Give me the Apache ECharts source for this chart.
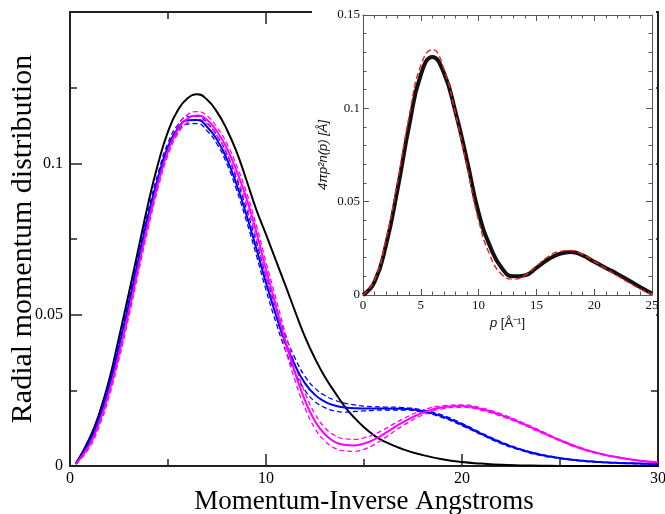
<!DOCTYPE html>
<html><head><meta charset="utf-8">
<script src="https://cdn.jsdelivr.net/npm/echarts@6/dist/echarts.min.js"></script>
<style>html,body{margin:0;padding:0;background:#fff}#c{width:665px;height:514px}</style>
</head><body><div id="c"></div>
<script>
// Main chart x positions (inverse Angstroms)
const xMain = [0.3,1,1.5,2,2.5,3,3.5,4,4.5,5,5.5,6,6.5,7,7.5,8,8.5,9,9.5,10,10.5,11,11.5,12,12.5,13,13.5,14,14.5,15,15.5,16,17,18,19,20,21,22,23,24,25,26,27,28,29,30];
const blackMain = [0.0008,0.0092,0.0175,0.0285,0.0425,0.057,0.072,0.087,0.100,0.1105,0.1175,0.1215,0.1228,0.121,0.117,0.1112,0.1038,0.0945,0.0848,0.0765,0.068,0.0595,0.0508,0.0425,0.0355,0.0295,0.0245,0.0198,0.016,0.0128,0.0102,0.0082,0.0055,0.0036,0.0022,0.0013,0.0008,0.0004,0.0002,0.0001,0,0,0,0,0,0];
const blueMain = [0.0007,0.008,0.0158,0.0262,0.0395,0.0535,0.0685,0.083,0.0955,0.1055,0.1115,0.1142,0.1143,0.112,0.1078,0.1015,0.093,0.083,0.072,0.0605,0.05,0.0405,0.033,0.0272,0.0235,0.0213,0.02,0.0193,0.0191,0.019,0.019,0.019,0.0189,0.0181,0.0164,0.0137,0.0106,0.0077,0.0054,0.0037,0.0026,0.0018,0.0013,0.001,0.0008,0.0006];
const blueUpper = [0.0008,0.0088,0.017,0.0277,0.0412,0.0552,0.0702,0.0846,0.0969,0.1068,0.1127,0.1154,0.1155,0.1133,0.1092,0.1031,0.0948,0.085,0.0742,0.0628,0.0524,0.0429,0.0354,0.0295,0.0257,0.0233,0.0218,0.0208,0.0202,0.0198,0.0196,0.0195,0.0193,0.0185,0.0168,0.0141,0.0109,0.008,0.0056,0.0039,0.0027,0.0019,0.0014,0.0011,0.0009,0.0007];
const blueLower = [0.0006,0.0072,0.0146,0.0247,0.0378,0.0518,0.0668,0.0814,0.0941,0.1042,0.1103,0.113,0.1131,0.1107,0.1064,0.0999,0.0912,0.081,0.0698,0.0582,0.0476,0.0381,0.0306,0.0249,0.0213,0.0193,0.0182,0.0178,0.018,0.0182,0.0184,0.0185,0.0185,0.0177,0.016,0.0133,0.0103,0.0074,0.0052,0.0035,0.0025,0.0017,0.0012,0.0009,0.0007,0.0005];
const magMain = [0.0006,0.007,0.0145,0.0245,0.037,0.051,0.066,0.0805,0.0935,0.104,0.111,0.1148,0.1158,0.1143,0.1105,0.105,0.0975,0.0885,0.0775,0.065,0.053,0.041,0.0305,0.0215,0.0148,0.0105,0.008,0.007,0.0068,0.0074,0.0087,0.0105,0.0145,0.0176,0.0194,0.0198,0.0188,0.0168,0.0143,0.0114,0.0085,0.006,0.0041,0.0028,0.0018,0.0012];
const magUpper = [0.0007,0.0078,0.0157,0.026,0.0387,0.0528,0.0678,0.0822,0.095,0.1053,0.1123,0.1161,0.1171,0.1156,0.1119,0.1066,0.0993,0.0905,0.0797,0.0674,0.0555,0.0436,0.0331,0.024,0.0172,0.0127,0.0101,0.009,0.0088,0.0093,0.0104,0.012,0.0156,0.0184,0.0199,0.0202,0.0192,0.0172,0.0146,0.0117,0.0087,0.0062,0.0042,0.0029,0.0019,0.0013];
const magLower = [0.0005,0.0062,0.0133,0.023,0.0353,0.0492,0.0642,0.0788,0.092,0.1027,0.1097,0.1135,0.1145,0.113,0.1091,0.1034,0.0957,0.0865,0.0753,0.0626,0.0505,0.0384,0.0279,0.019,0.0124,0.0083,0.0059,0.005,0.0048,0.0055,0.007,0.009,0.0134,0.0168,0.0189,0.0194,0.0184,0.0164,0.014,0.0111,0.0083,0.0058,0.004,0.0027,0.0017,0.0011];

// Inset
const xInset = [0,1,2,3,4,5,6,7,8,9,10,11,12,13,14,15,16,17,18,19,20,21,22,23,24,25];
const insetBlack = [0,0.007,0.027,0.057,0.091,0.118,0.1275,0.119,0.098,0.072,0.044,0.026,0.0145,0.010,0.0105,0.0145,0.019,0.022,0.0231,0.0212,0.0178,0.0145,0.0113,0.0078,0.0042,0.0008];
const insetRed = [0,0.008,0.030,0.061,0.096,0.123,0.1315,0.121,0.097,0.069,0.040,0.021,0.011,0.0085,0.0105,0.0155,0.0205,0.0233,0.0238,0.0217,0.018,0.0141,0.0103,0.0066,0.0032,0.0005];

const mainXRange = {min:0, max:30}, mainXMajor = 10, mainXMinor = 5;
const mainYRange = {min:0, max:0.15}, mainYMajor = 0.05, mainYMinor = 0.025;
const inXRange = {min:0, max:25}, inXMajor = 5, inXMinor = 1;
const inYRange = {min:0, max:0.15}, inYMajor = 0.05, inYMinor = 0.01;

const pair = (xs, ys) => xs.map((x,i)=>[x, ys[i]]);
const serif = 'Liberation Serif, Times New Roman, serif';
const sans = 'Liberation Sans, Arial, sans-serif';

function tickAxis(grid, pos, range, interval, len, lineCol, lineW, showLine, z, extra){
  return Object.assign({type:'value', gridIndex:grid, position:pos, min:range.min, max:range.max, interval,
    z, axisLine:{show:showLine, onZero:false, lineStyle:{color:lineCol, width:lineW}},
    axisTick:{show:true, inside:true, length:len, lineStyle:{color:lineCol, width:Math.min(lineW,1.5)}},
    axisLabel:{show:false}, splitLine:{show:false}, minorTick:{show:false}}, extra||{});
}

function mainLine(name, ys, color, dashed){
  return {name, type:'line', xAxisIndex:0, yAxisIndex:0, data:pair(xMain, ys), smooth:0.5,
    showSymbol:false, symbol:'none', z:2,
    lineStyle:{color, width: dashed?1.3:2, type: dashed?[5,3]:'solid'}};
}

const chart = echarts.init(document.getElementById('c'), null, {renderer:'canvas'});
const MC = '#222', IC = '#555';

chart.setOption({
  animation:false,
  backgroundColor:'#fff',
  grid:[
    {left:70, right:7, top:12, bottom:48, containLabel:false, outerBoundsMode:'none'},
    {left:363, right:13, top:15, bottom:219, containLabel:false, outerBoundsMode:'none', z:60}
  ],
  xAxis:[
    tickAxis(0,'bottom',mainXRange,mainXMajor,12,MC,2,true,0,{
      axisLabel:{show:true, color:'#000', fontFamily:serif, fontSize:16, margin:5},
      name:'Momentum-Inverse Angstroms', nameLocation:'middle', nameGap:22, nameMoveOverlap:false,
      nameTextStyle:{color:'#000', fontFamily:serif, fontSize:27}}),
    tickAxis(0,'bottom',mainXRange,mainXMinor,7,MC,2,false,0),
    tickAxis(0,'top',mainXRange,mainXMajor,12,MC,2,true,0),
    tickAxis(0,'top',mainXRange,mainXMinor,7,MC,2,false,0),
    tickAxis(1,'bottom',inXRange,inXMajor,6,IC,1,true,60,{
      axisLabel:{show:true, color:'#111', fontFamily:serif, fontSize:13, margin:4},
      name:'{i|p} [Å⁻¹]', nameLocation:'middle', nameGap:22, nameMoveOverlap:false,
      nameTextStyle:{color:'#111', fontFamily:sans, fontSize:13,
        rich:{i:{fontStyle:'italic', fontFamily:sans, fontSize:13, color:'#111'}}}}),
    tickAxis(1,'bottom',inXRange,inXMinor,3.5,IC,1,false,60),
    tickAxis(1,'top',inXRange,inXMajor,6,IC,1,true,60),
    tickAxis(1,'top',inXRange,inXMinor,3.5,IC,1,false,60)
  ],
  yAxis:[
    tickAxis(0,'left',mainYRange,mainYMajor,12,MC,2,true,0,{
      axisLabel:{show:true, color:'#000', fontFamily:serif, fontSize:16, margin:7, showMaxLabel:false},
      name:'Radial momentum distribution', nameLocation:'middle', nameGap:32, nameRotate:90, nameMoveOverlap:false,
      nameTextStyle:{color:'#000', fontFamily:serif, fontSize:30}}),
    tickAxis(0,'left',mainYRange,mainYMinor,7,MC,2,false,0),
    tickAxis(0,'right',mainYRange,mainYMajor,12,MC,2,true,0),
    tickAxis(0,'right',mainYRange,mainYMinor,7,MC,2,false,0),
    tickAxis(1,'left',inYRange,inYMajor,6,IC,1,true,60,{
      axisLabel:{show:true, color:'#111', fontFamily:serif, fontSize:13, margin:3},
      name:'4πp²n(p) [Å]', nameLocation:'middle', nameGap:33, nameRotate:90, nameMoveOverlap:false,
      nameTextStyle:{color:'#111', fontFamily:sans, fontSize:13, fontStyle:'italic'}}),
    tickAxis(1,'left',inYRange,inYMinor,3.5,IC,1,false,60),
    tickAxis(1,'right',inYRange,inYMajor,6,IC,1,true,60),
    tickAxis(1,'right',inYRange,inYMinor,3.5,IC,1,false,60)
  ],
  graphic:[
    {type:'rect', shape:{x:312, y:0, width:344, height:332}, style:{fill:'#fff'}, z:50}
  ],
  series:[
    mainLine('blackMain', blackMain, '#000', false),
    mainLine('blueUpper', blueUpper, '#0000ff', true),
    mainLine('blueLower', blueLower, '#0000ff', true),
    mainLine('magUpper', magUpper, '#ff00ff', true),
    mainLine('magLower', magLower, '#ff00ff', true),
    mainLine('blueMain', blueMain, '#0000ff', false),
    mainLine('magMain', magMain, '#ff00ff', false),
    {name:'insetBlack', type:'line', xAxisIndex:4, yAxisIndex:4, data:pair(xInset, insetBlack), smooth:0.5,
     showSymbol:false, symbol:'none', z:70, lineStyle:{color:'#111', width:4}},
    {name:'insetRed', type:'line', xAxisIndex:4, yAxisIndex:4, data:pair(xInset, insetRed), smooth:0.5,
     showSymbol:false, symbol:'none', z:71, lineStyle:{color:'#e8201a', width:1.4, type:[6,3]}}
  ]
});
</script></body></html>
